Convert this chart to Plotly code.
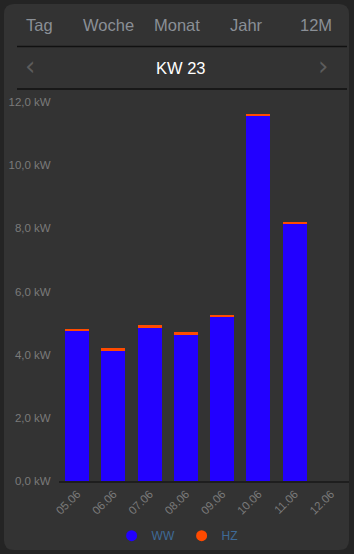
import plotly.graph_objects as go

days = ["05.06", "06.06", "07.06", "08.06", "09.06", "10.06", "11.06", "12.06"]
ww = [4.75, 4.13, 4.83, 4.63, 5.18, 11.57, 8.14, 0.0]
hz = [0.05, 0.08, 0.10, 0.08, 0.09, 0.05, 0.07, 0.0]
tick_vals = [0, 2, 4, 6, 8, 10, 12]
tick_text = ["0,0 kW", "2,0 kW", "4,0 kW", "6,0 kW", "8,0 kW", "10,0 kW", "12,0 kW"]
tabs = ["Tag", "Woche", "Monat", "Jahr", "12M"]
title = "KW 23"
series_names = ["WW", "HZ"]
series_colors = ["#2200ff", "#ff4a00"]

W, H = 354, 554
L, R, T, B = 59, 5, 102, 73
PW = W - L - R
PH = H - T - B


def px(x):
    return (x - L) / PW


def py(y):
    return (H - B - y) / PH


fig = go.Figure()
for name, vals, col in zip(series_names, [ww, hz], series_colors):
    fig.add_trace(go.Bar(x=days, y=vals, name=name, showlegend=False,
                         marker=dict(color=col, line=dict(width=0))))
# legend entries with round symbols
for name, col in zip(series_names, series_colors):
    fig.add_trace(go.Scatter(x=[None], y=[None], mode="markers", name=name,
                             marker=dict(color=col, size=11, symbol="circle")))

shapes = []
x0, y0, x1, y1, r = 4, 4, 349, 550, 10
path = (f"M {px(x0+r)},{py(y0)} L {px(x1-r)},{py(y0)} Q {px(x1)},{py(y0)} {px(x1)},{py(y0+r)} "
        f"L {px(x1)},{py(y1-r)} Q {px(x1)},{py(y1)} {px(x1-r)},{py(y1)} "
        f"L {px(x0+r)},{py(y1)} Q {px(x0)},{py(y1)} {px(x0)},{py(y1-r)} "
        f"L {px(x0)},{py(y0+r)} Q {px(x0)},{py(y0)} {px(x0+r)},{py(y0)} Z")
shapes.append(dict(type="path", path=path, xref="paper", yref="paper", fillcolor="#333333",
                   line=dict(width=0), layer="below"))
for yy in (46.5, 89):
    shapes.append(dict(type="line", xref="paper", yref="paper", x0=px(17), x1=px(347),
                       y0=py(yy), y1=py(yy), line=dict(color="#111111", width=1.3)))

annotations = []
tab_x = [39, 108, 177, 246, 316]
for t, xx in zip(tabs, tab_x):
    annotations.append(dict(text=t, x=px(xx), y=py(25), xref="paper", yref="paper", showarrow=False,
                            xanchor="center", yanchor="middle",
                            font=dict(family="Liberation Sans, Arial", size=16.5, color="#8a8f96")))
annotations.append(dict(text=title, x=px(180.5), y=py(68), xref="paper", yref="paper", showarrow=False,
                        xanchor="center", yanchor="middle",
                        font=dict(family="Liberation Sans, Arial", size=16.5, color="#ffffff")))
for ch, xx in (("‹", 30), ("›", 323)):
    annotations.append(dict(text=ch, x=px(xx), y=py(66), xref="paper", yref="paper", showarrow=False,
                            xanchor="center", yanchor="middle",
                            font=dict(family="DejaVu Sans", size=26, color="#5c5c5c")))

fig.update_layout(
    width=W, height=H,
    margin=dict(l=L, r=R, t=T, b=B),
    barmode="stack", bargap=0.34,
    paper_bgcolor="#242424", plot_bgcolor="rgba(0,0,0,0)",
    shapes=shapes, annotations=annotations,
    font=dict(family="Liberation Sans, Arial", color="#7a7a7a"),
    showlegend=True,
    legend=dict(orientation="h", xref="container", yref="container", x=0.513, y=0.033,
                xanchor="center", yanchor="middle", bgcolor="rgba(0,0,0,0)",
                font=dict(size=12, color="#3f6a96"), itemwidth=30, traceorder="normal",
                entrywidth=25, entrywidthmode="pixels"),
    xaxis=dict(showgrid=False, tickangle=-45, tickfont=dict(size=11.5, color="#7a7a7a"),
               showline=True, linecolor="#1e1e1e", linewidth=1.5, ticks="", zeroline=False,
               range=[-0.5, 7.5]),
    yaxis=dict(range=[0, 12], tickvals=tick_vals, ticktext=tick_text, showgrid=False,
               zeroline=False, tickfont=dict(size=11.5, color="#7a7a7a"),
               ticks="outside", ticklen=5, tickcolor="rgba(0,0,0,0)"),
)

fig.write_html("out.html")
